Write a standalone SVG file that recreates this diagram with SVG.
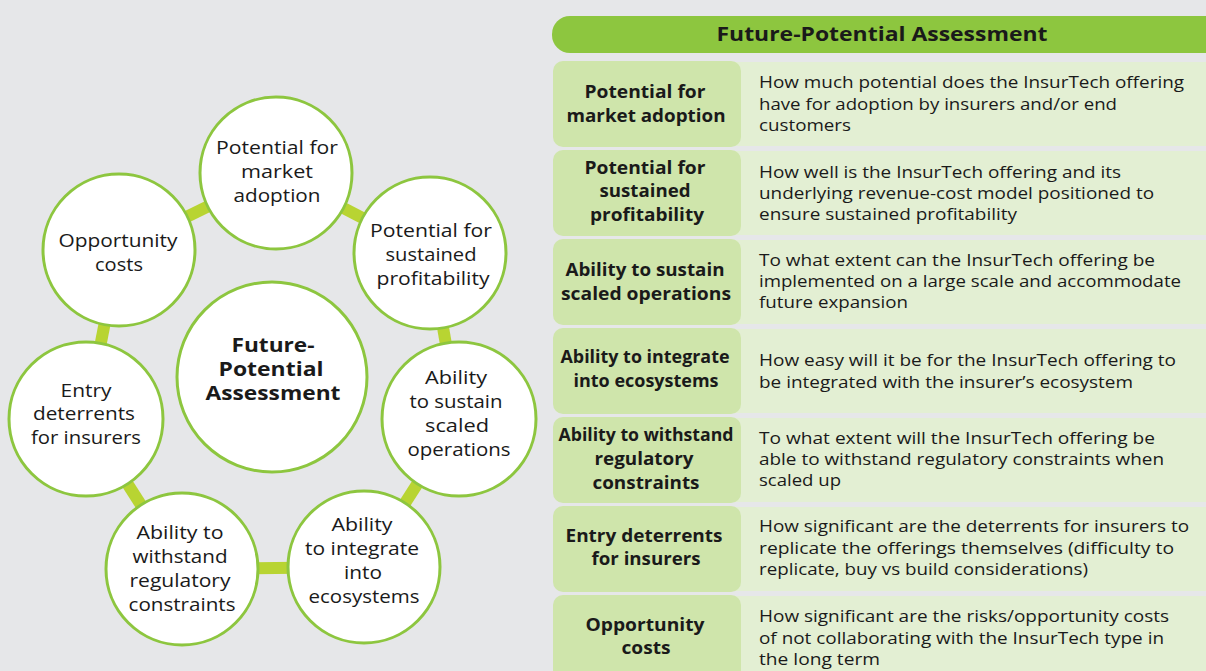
<svg xmlns="http://www.w3.org/2000/svg" width="1206" height="671" viewBox="0 0 1206 671">
<style>
.bg{fill:#e6e7e9}
.link{stroke:#b8d432;stroke-width:12;fill:none}
.node{fill:#ffffff;stroke:#8dc63f;stroke-width:3}
.ct{font-family:"Open Sans","Noto Sans",sans-serif;font-size:18px;fill:#1a1a1a;text-anchor:middle}
.cb{font-family:"Open Sans","Noto Sans",sans-serif;font-size:19px;font-weight:bold;fill:#1a1a1a;text-anchor:middle}
.hdr{fill:#8dc63f}
.ht{font-family:"Open Sans","Noto Sans",sans-serif;font-size:20px;font-weight:bold;fill:#1a1a1a;text-anchor:middle}
.lc{fill:#cfe5ab}
.rc{fill:#e3efd3}
.lt{font-family:"Open Sans","Noto Sans",sans-serif;font-size:17px;font-weight:bold;fill:#1a1a1a;text-anchor:middle}
.rt{font-family:"Open Sans","Noto Sans",sans-serif;font-size:17px;fill:#1a1a1a}
</style>
<rect class="bg" x="0" y="0" width="1206" height="671"/>

<g id="connectors">
<line class="link" x1="276" y1="173" x2="119" y2="250"/>
<line class="link" x1="276" y1="173" x2="430" y2="253"/>
<line class="link" x1="119" y1="250" x2="86" y2="419"/>
<line class="link" x1="430" y1="253" x2="459" y2="419"/>
<line class="link" x1="86" y1="419" x2="182" y2="569"/>
<line class="link" x1="182" y1="569" x2="364" y2="567"/>
<line class="link" x1="364" y1="567" x2="459" y2="419"/>
</g>

<g id="node-market-adoption">
<circle class="node" cx="276" cy="173" r="76"/>
<text class="ct"><tspan x="277" y="154" textLength="122" lengthAdjust="spacingAndGlyphs">Potential for</tspan><tspan x="277" y="178" textLength="72" lengthAdjust="spacingAndGlyphs">market</tspan><tspan x="277" y="202" textLength="87" lengthAdjust="spacingAndGlyphs">adoption</tspan></text>
</g>

<g id="node-opportunity-costs">
<circle class="node" cx="119" cy="250" r="76"/>
<text class="ct"><tspan x="118" y="247" textLength="119" lengthAdjust="spacingAndGlyphs">Opportunity</tspan><tspan x="119" y="271" textLength="48" lengthAdjust="spacingAndGlyphs">costs</tspan></text>
</g>

<g id="node-sustained-profitability">
<circle class="node" cx="430" cy="253" r="76"/>
<text class="ct"><tspan x="431" y="237" textLength="122" lengthAdjust="spacingAndGlyphs">Potential for</tspan><tspan x="431" y="261" textLength="91" lengthAdjust="spacingAndGlyphs">sustained</tspan><tspan x="433" y="285" textLength="113" lengthAdjust="spacingAndGlyphs">profitability</tspan></text>
</g>

<g id="node-center">
<circle class="node" cx="272" cy="377" r="95"/>
<text class="cb"><tspan x="273" y="352" textLength="83" lengthAdjust="spacingAndGlyphs">Future-</tspan><tspan x="271" y="376" textLength="105" lengthAdjust="spacingAndGlyphs">Potential</tspan><tspan x="273" y="400" textLength="135" lengthAdjust="spacingAndGlyphs">Assessment</tspan></text>
</g>

<g id="node-entry-deterrents">
<circle class="node" cx="86" cy="419" r="77"/>
<text class="ct"><tspan x="86" y="397" textLength="51" lengthAdjust="spacingAndGlyphs">Entry</tspan><tspan x="84" y="420" textLength="102" lengthAdjust="spacingAndGlyphs">deterrents</tspan><tspan x="86" y="444" textLength="110" lengthAdjust="spacingAndGlyphs">for insurers</tspan></text>
</g>

<g id="node-scaled-operations">
<circle class="node" cx="459" cy="419" r="77"/>
<text class="ct"><tspan x="456" y="384" textLength="62" lengthAdjust="spacingAndGlyphs">Ability</tspan><tspan x="456" y="408" textLength="93" lengthAdjust="spacingAndGlyphs">to sustain</tspan><tspan x="457" y="432" textLength="64" lengthAdjust="spacingAndGlyphs">scaled</tspan><tspan x="459" y="456" textLength="103" lengthAdjust="spacingAndGlyphs">operations</tspan></text>
</g>

<g id="node-regulatory">
<circle class="node" cx="182" cy="569" r="76"/>
<text class="ct"><tspan x="180" y="539" textLength="87" lengthAdjust="spacingAndGlyphs">Ability to</tspan><tspan x="180" y="563" textLength="95" lengthAdjust="spacingAndGlyphs">withstand</tspan><tspan x="180" y="587" textLength="101" lengthAdjust="spacingAndGlyphs">regulatory</tspan><tspan x="182" y="611" textLength="107" lengthAdjust="spacingAndGlyphs">constraints</tspan></text>
</g>

<g id="node-ecosystems">
<circle class="node" cx="364" cy="567" r="76"/>
<text class="ct"><tspan x="362" y="531" textLength="61" lengthAdjust="spacingAndGlyphs">Ability</tspan><tspan x="362" y="555" textLength="114" lengthAdjust="spacingAndGlyphs">to integrate</tspan><tspan x="363" y="579" textLength="38" lengthAdjust="spacingAndGlyphs">into</tspan><tspan x="364" y="603" textLength="111" lengthAdjust="spacingAndGlyphs">ecosystems</tspan></text>
</g>

<g id="table-header">
<rect class="hdr" x="552" y="16" width="680" height="37" rx="18"/>
<text class="ht" x="882" y="41" textLength="331" lengthAdjust="spacingAndGlyphs">Future-Potential Assessment</text>
</g>

<g id="row-1">
<rect class="rc" x="730" y="62" width="490" height="84"/>
<rect class="lc" x="553" y="61" width="188" height="86" rx="10"/>
<text class="lt"><tspan x="645" y="98" textLength="121" lengthAdjust="spacingAndGlyphs">Potential for</tspan><tspan x="646" y="122" textLength="159" lengthAdjust="spacingAndGlyphs">market adoption</tspan></text>
<text class="rt"><tspan x="759" y="88" textLength="425" lengthAdjust="spacingAndGlyphs">How much potential does the InsurTech offering</tspan><tspan x="759" y="110" textLength="358" lengthAdjust="spacingAndGlyphs">have for adoption by insurers and/or end</tspan><tspan x="759" y="131" textLength="92" lengthAdjust="spacingAndGlyphs">customers</tspan></text>
</g>

<g id="row-2">
<rect class="rc" x="730" y="151" width="490" height="84"/>
<rect class="lc" x="553" y="150" width="188" height="86" rx="10"/>
<text class="lt"><tspan x="645" y="174" textLength="121" lengthAdjust="spacingAndGlyphs">Potential for</tspan><tspan x="645" y="197" textLength="91" lengthAdjust="spacingAndGlyphs">sustained</tspan><tspan x="647" y="221" textLength="114" lengthAdjust="spacingAndGlyphs">profitability</tspan></text>
<text class="rt"><tspan x="759" y="178" textLength="362" lengthAdjust="spacingAndGlyphs">How well is the InsurTech offering and its</tspan><tspan x="759" y="199" textLength="395" lengthAdjust="spacingAndGlyphs">underlying revenue-cost model positioned to</tspan><tspan x="759" y="220" textLength="258" lengthAdjust="spacingAndGlyphs">ensure sustained profitability</tspan></text>
</g>

<g id="row-3">
<rect class="rc" x="730" y="240" width="490" height="84"/>
<rect class="lc" x="553" y="239" width="188" height="86" rx="10"/>
<text class="lt"><tspan x="645" y="276" textLength="159" lengthAdjust="spacingAndGlyphs">Ability to sustain</tspan><tspan x="646" y="300" textLength="170" lengthAdjust="spacingAndGlyphs">scaled operations</tspan></text>
<text class="rt"><tspan x="759" y="266" textLength="396" lengthAdjust="spacingAndGlyphs">To what extent can the InsurTech offering be</tspan><tspan x="759" y="287" textLength="422" lengthAdjust="spacingAndGlyphs">implemented on a large scale and accommodate</tspan><tspan x="759" y="308" textLength="149" lengthAdjust="spacingAndGlyphs">future expansion</tspan></text>
</g>

<g id="row-4">
<rect class="rc" x="730" y="329" width="490" height="84"/>
<rect class="lc" x="553" y="328" width="188" height="86" rx="10"/>
<text class="lt"><tspan x="645" y="363" textLength="169" lengthAdjust="spacingAndGlyphs">Ability to integrate</tspan><tspan x="646" y="387" textLength="145" lengthAdjust="spacingAndGlyphs">into ecosystems</tspan></text>
<text class="rt"><tspan x="759" y="366" textLength="417" lengthAdjust="spacingAndGlyphs">How easy will it be for the InsurTech offering to</tspan><tspan x="759" y="388" textLength="374" lengthAdjust="spacingAndGlyphs">be integrated with the insurer’s ecosystem</tspan></text>
</g>

<g id="row-5">
<rect class="rc" x="730" y="418" width="490" height="84"/>
<rect class="lc" x="553" y="417" width="188" height="86" rx="10"/>
<text class="lt"><tspan x="646" y="441" textLength="175" lengthAdjust="spacingAndGlyphs">Ability to withstand</tspan><tspan x="644" y="465" textLength="99" lengthAdjust="spacingAndGlyphs">regulatory</tspan><tspan x="646" y="489" textLength="107" lengthAdjust="spacingAndGlyphs">constraints</tspan></text>
<text class="rt"><tspan x="759" y="444" textLength="396" lengthAdjust="spacingAndGlyphs">To what extent will the InsurTech offering be</tspan><tspan x="759" y="465" textLength="405" lengthAdjust="spacingAndGlyphs">able to withstand regulatory constraints when</tspan><tspan x="759" y="486" textLength="82" lengthAdjust="spacingAndGlyphs">scaled up</tspan></text>
</g>

<g id="row-6">
<rect class="rc" x="730" y="507" width="490" height="84"/>
<rect class="lc" x="553" y="506" width="188" height="86" rx="10"/>
<text class="lt"><tspan x="644" y="542" textLength="157" lengthAdjust="spacingAndGlyphs">Entry deterrents</tspan><tspan x="646" y="565" textLength="109" lengthAdjust="spacingAndGlyphs">for insurers</tspan></text>
<text class="rt"><tspan x="759" y="532" textLength="430" lengthAdjust="spacingAndGlyphs">How significant are the deterrents for insurers to</tspan><tspan x="759" y="554" textLength="415" lengthAdjust="spacingAndGlyphs">replicate the offerings themselves (difficulty to</tspan><tspan x="759" y="575" textLength="329" lengthAdjust="spacingAndGlyphs">replicate, buy vs build considerations)</tspan></text>
</g>

<g id="row-7">
<rect class="rc" x="730" y="596" width="490" height="84"/>
<rect class="lc" x="553" y="595" width="188" height="90" rx="10"/>
<text class="lt"><tspan x="645" y="631" textLength="119" lengthAdjust="spacingAndGlyphs">Opportunity</tspan><tspan x="646" y="654" textLength="49" lengthAdjust="spacingAndGlyphs">costs</tspan></text>
<text class="rt"><tspan x="759" y="622" textLength="410" lengthAdjust="spacingAndGlyphs">How significant are the risks/opportunity costs</tspan><tspan x="759" y="644" textLength="405" lengthAdjust="spacingAndGlyphs">of not collaborating with the InsurTech type in</tspan><tspan x="759" y="665" textLength="121" lengthAdjust="spacingAndGlyphs">the long term</tspan></text>
</g>
</svg>
